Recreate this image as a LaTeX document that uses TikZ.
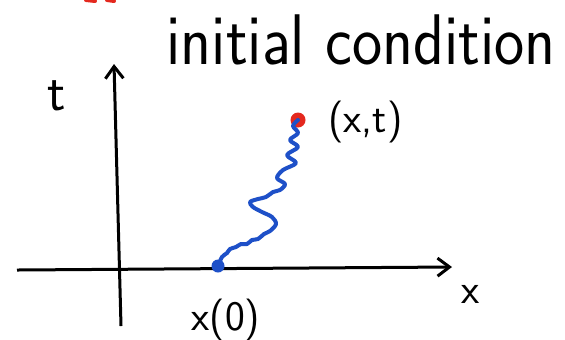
\documentclass[tikz,border=0pt]{standalone}
\usepackage{xcolor}
\usetikzlibrary{arrows.meta, positioning, calc}

\definecolor{pathblue}{RGB}{30,80,200}
\definecolor{dotred}{RGB}{228,40,30}

\begin{document}
\begin{tikzpicture}[
  x=0.5pt, y=-0.5pt,
  axis/.style={line width=1.5pt, -{Straight Barb[length=6pt, width=9pt, line width=1.5pt]}},
  lbl/.style={font=\sffamily\fontsize{21}{24}\selectfont, inner sep=0pt},
  dot/.style={circle, inner sep=0pt, minimum size=7.5pt},
  walk/.style={pathblue, line width=2pt, line cap=round, line join=round}
]
\useasboundingbox (0,0) rectangle (565,339);
\fill[white] (0,0) rectangle (565,339);

% axes
\coordinate (xstart) at (17,270);
\coordinate (xend) at (452,267);
\coordinate (tstart) at (121,326);
\coordinate (tend) at (114,64);
\draw[axis] (xstart) -- (xend);
\draw[axis] (tstart) -- (tend);

% labels
\node[lbl, font=\sffamily\fontsize{27}{30}\selectfont] (tlab) at (57,96) {t};
\node[lbl] (xlab) at (471,294) {x};
\node[lbl, font=\sffamily\fontsize{32}{36}\selectfont, yscale=1.12] (title) at (361,40) {initial condition};

% end points of the walk
\node[dot, fill=pathblue, minimum size=6.5pt] (x0) at (218,266) {};
\node[dot, fill=dotred] (xt) at (298,120) {};
\node[lbl, right=11pt of xt, yshift=-1pt] (xtlab) {(x,t)};
\node[lbl, below=13pt of x0, xshift=4pt] (x0lab) {x(0)};

% red fragment at the top
\draw[dotred, line width=2pt, line cap=round] (86,0) -- (95,1) (107,0) -- (114,1);

% the wiggly path
\draw[walk] plot[smooth, tension=0.55] coordinates {
  (x0.center) (222,257) (227,253) (230,249) (236,247) (241,244) (247,244)
  (252,240) (258,239) (264,234) (270,231) (276,224) (272,217) (262,212)
  (253,207) (250,202) (258,199) (266,197) (273,192) (280,190) (285,184)
  (277,178) (283,170) (296,163) (287,155) (298,147) (290,140) (298,133)
  (293,126) (xt.center)};
\end{tikzpicture}
\end{document}
